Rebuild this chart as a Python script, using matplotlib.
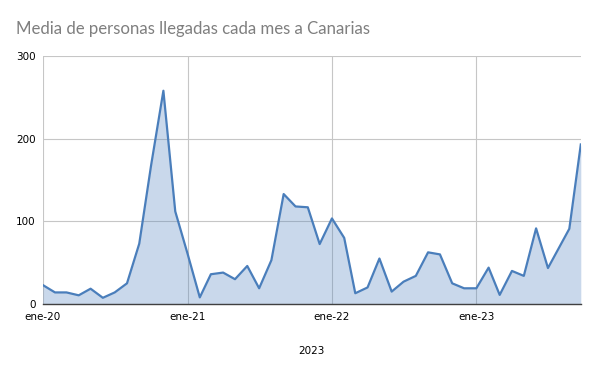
import numpy as np
import pandas as pd
import matplotlib
matplotlib.use("Agg")
import matplotlib.pyplot as plt
import matplotlib.dates as mdates

# Monthly average of people arriving in the Canary Islands
months = list(pd.date_range("2020-01-01", "2023-07-01", freq="MS").strftime("%Y-%m-%d"))
dates = months + ["2023-08-24", "2023-09-22"]
values = [23, 14, 14, 10.5, 18.5, 7.5, 14, 25, 73, 168, 258, 112,
          61, 8, 36, 38, 30, 46, 19, 53, 133, 118, 117, 72.5,
          103.5, 80, 13, 20, 55, 15, 27, 34, 62.5, 60, 25, 19,
          19, 44, 11, 40, 34, 91.5, 43.5,
          91, 193]
tick_dates = ["2020-01-01", "2021-01-01", "2022-01-01", "2023-01-01"]
tick_labels = ["ene-20", "ene-21", "ene-22", "ene-23"]
y_ticks = [0, 100, 200, 300]

x = pd.to_datetime(dates)
line_color = "#4a7ebb"
grid_color = "#c6c6c6"

fig = plt.figure(figsize=(6, 3.71), dpi=100)
ax = fig.add_axes([0.0712, 0.1806, 0.8968, 0.6684])

ax.fill_between(x, values, 0, color="#4f81bd", alpha=0.3, linewidth=0, zorder=2)
ax.plot(x, values, color=line_color, linewidth=1.6, zorder=3)

ax.set_xlim(x[0], x[-1])
ax.set_ylim(0, 300)
ax.set_xticks(pd.to_datetime(tick_dates))
ax.set_xticklabels(tick_labels)
ax.set_yticks(y_ticks)

ax.grid(True, color=grid_color, linewidth=0.8, zorder=1)
ax.set_axisbelow(True)
for side in ["left", "right", "top"]:
    ax.spines[side].set_visible(False)
ax.spines["bottom"].set_color("#404040")
ax.spines["bottom"].set_linewidth(1.0)
ax.spines["bottom"].set_zorder(4)

ax.tick_params(axis="both", length=0, labelsize=7.5, colors="black")
ax.tick_params(axis="x", pad=6)
ax.tick_params(axis="y", pad=5)

ax.set_xlabel("2023", fontsize=7.5, labelpad=17)

fig.text(0.027, 0.923, "Media de personas llegadas cada mes a Canarias",
         fontsize=12.1, color="#7f7f7f", ha="left", va="center", family="Lato")

fig.savefig("out.png", dpi=100)
